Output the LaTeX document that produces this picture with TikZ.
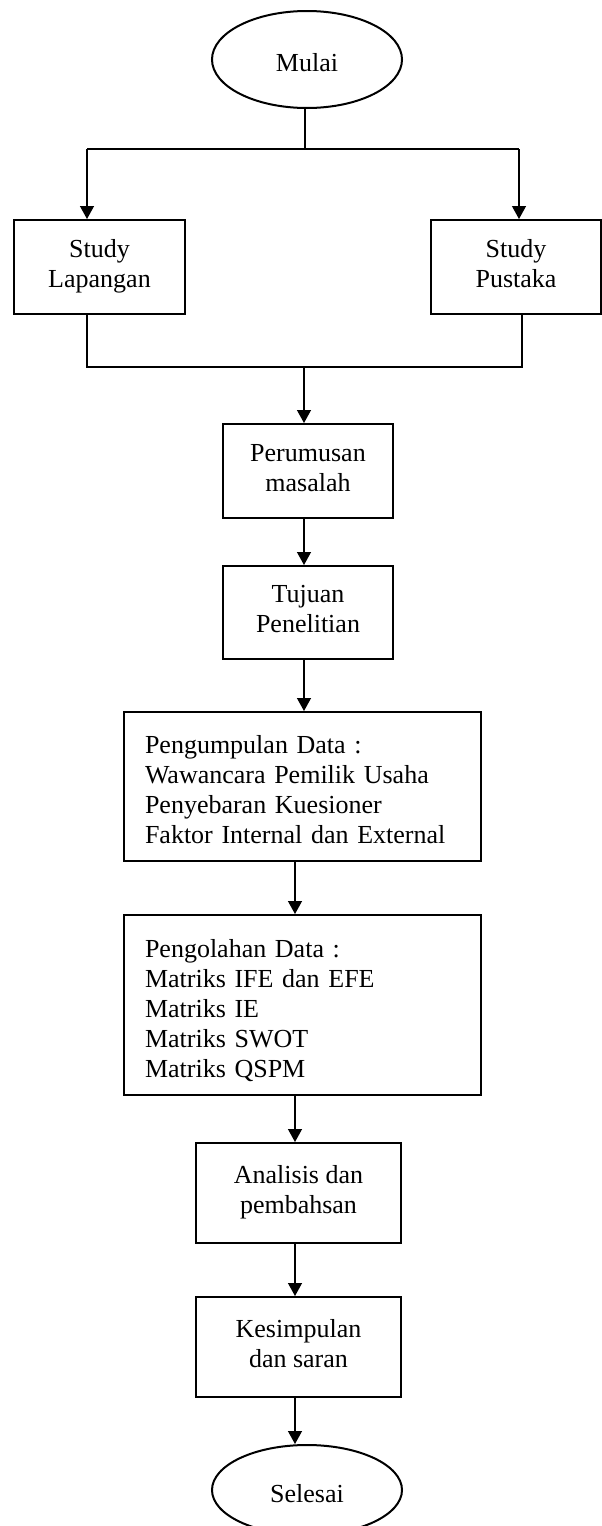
\documentclass[tikz,border=0pt]{standalone}
\usepackage{fontspec}
\setmainfont{Liberation Serif}
\usetikzlibrary{shapes.geometric,arrows.meta}
% invisible rules that fix the vertical extent of each label
\newcommand\labeltop{\rule{0pt}{31pt}}
\newcommand\labelbot{\rule[-7pt]{0pt}{7pt}}
\begin{document}
\begin{tikzpicture}[x=1pt,y=-1pt,
  txt/.style={font=\fontsize{26}{30}\selectfont,execute at begin node=\labeltop,execute at end node=\labelbot},
  flowbox/.style={txt,draw,line width=2pt,inner sep=0pt,align=center},
  listbox/.style={txt,draw,line width=2pt,inner ysep=0pt,inner xsep=0pt,align=left,text width=315pt,minimum width=357pt},
  term/.style={txt,ellipse,draw,line width=2pt,inner sep=0pt,minimum width=190pt},
  link/.style={line width=1.3pt},
  arr/.style={link,-{Triangle[length=13pt,width=14pt]}}]
\useasboundingbox (0,0) rectangle (602,1526);

% start and end terminals
\node[term,minimum height=97pt] (mulai) at (307,59.5) {Mulai};
\node[term,minimum height=90pt] (selesai) at (307,1490) {Selesai};

% the two preliminary studies
\node[flowbox,minimum width=171pt,minimum height=94pt] (lap) at (99.5,267) {Study\\Lapangan};
\node[flowbox,minimum width=170pt,minimum height=94pt] (pus) at (516,267) {Study\\Pustaka};

% main sequence
\node[flowbox,minimum width=170pt,minimum height=94pt] (rum) at (308,471) {Perumusan\\masalah};
\node[flowbox,minimum width=170pt,minimum height=93pt] (tuj) at (308,612.5) {Tujuan\\Penelitian};
\node[listbox,minimum height=149pt] (kum) at (302.5,786.5) {Pengumpulan Data :\\Wawancara Pemilik Usaha\\Penyebaran Kuesioner\\Faktor Internal dan External};
\node[listbox,minimum height=180pt] (olah) at (302.5,1005) {Pengolahan Data :\\Matriks IFE dan EFE\\Matriks IE\\Matriks SWOT\\Matriks QSPM};
\node[flowbox,minimum width=205pt,minimum height=100pt] (ana) at (298.5,1193) {Analisis dan\\pembahsan};
\node[flowbox,minimum width=205pt,minimum height=100pt] (kes) at (298.5,1347) {Kesimpulan\\dan saran};

% branch and merge points
\coordinate (split) at (305,149);
\coordinate (sl) at (87,149);
\coordinate (sr) at (519,149);
\coordinate (jl) at (87,367);
\coordinate (jr) at (522,367);
\coordinate (jm) at (304,367);
\coordinate (ax) at (295,0);

\draw[link] (mulai.south -| split) -- (split);
\draw[link] (sl) -- (sr);
\draw[arr] (sl) -- (sl |- lap.north);
\draw[arr] (sr) -- (sr |- pus.north);

\draw[link] (lap.south -| jl) -- (jl) -- (jr) -- (pus.south -| jr);
\draw[arr] (jm) -- (jm |- rum.north);
\draw[arr] (rum.south -| jm) -- (tuj.north -| jm);
\draw[arr] (tuj.south -| jm) -- (kum.north -| jm);

\draw[arr] (kum.south -| ax) -- (olah.north -| ax);
\draw[arr] (olah.south -| ax) -- (ana.north -| ax);
\draw[arr] (ana.south -| ax) -- (kes.north -| ax);
\draw[arr] (kes.south -| ax) -- (selesai.north -| ax);
\end{tikzpicture}
\end{document}
